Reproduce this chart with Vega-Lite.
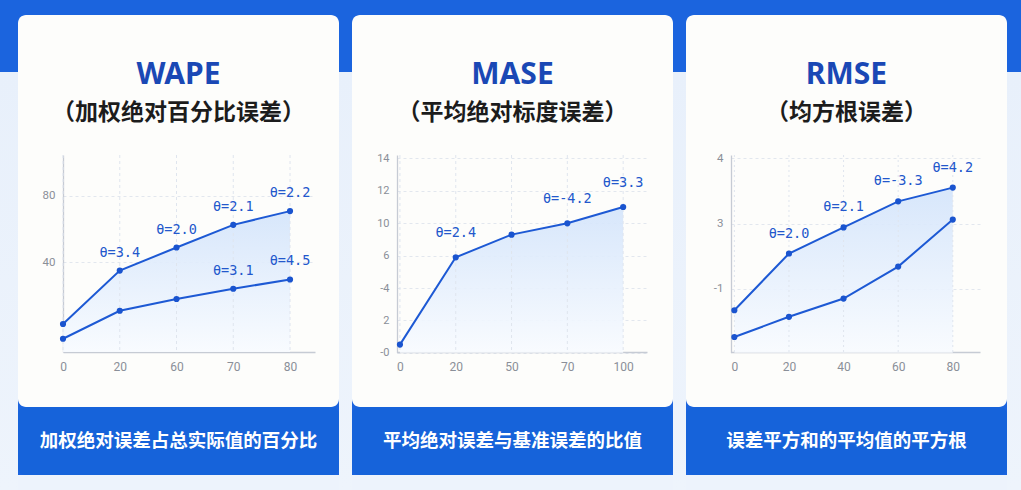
{
  "$schema": "https://vega.github.io/schema/vega-lite/v6.json",
  "background": "#1b64de",
  "padding": 0,
  "spacing": 0,
  "datasets": {"blank": [{"blank": " "}]},
  "config": {
    "view": {"stroke": null},
    "axis": {
      "domainColor": "#c6cbd4",
      "domainWidth": 1.3,
      "ticks": false,
      "gridColor": "#e2e7ee",
      "gridDash": [3, 3],
      "gridWidth": 1,
      "labelColor": "#8a8f98",
      "labelFont": "Roboto"
    },
    "axisX": {"labelFontSize": 12, "labelPadding": 9, "labelAngle": 0, "grid": false},
    "axisY": {"labelFontSize": 11.5, "labelPadding": 8, "grid": true},
    "title": {
      "anchor": "middle",
      "frame": "group",
      "font": "Noto Sans",
      "fontSize": 30,
      "fontWeight": "bold",
      "color": "#1a48b5",
      "subtitleFont": "Noto Sans CJK SC",
      "subtitleFontSize": 23,
      "subtitleFontWeight": "bold",
      "subtitleColor": "#1c1c1c",
      "subtitlePadding": 12,
      "offset": -110
    }
  },
  "hconcat": [
    {
      "width": 18, "height": 490,
      "view": {"fill": {"gradient": "linear", "x1": 0, "y1": 0, "x2": 0, "y2": 1, "stops": [{"offset": 0, "color": "#1b64de"}, {"offset": 0.147, "color": "#1b64de"}, {"offset": 0.147, "color": "#e8f0fb"}, {"offset": 1, "color": "#eef4fc"}]}, "stroke": null},
      "data": {"name": "blank"},
      "mark": {"type": "text", "opacity": 0},
      "encoding": {"text": {"field": "blank"}}
    },
    {
      "spacing": 0,
      "vconcat": [
        {
          "width": 321, "height": 15,
          "view": {"fill": "#1b64de", "stroke": null},
          "data": {"name": "blank"},
          "mark": {"type": "text", "opacity": 0},
          "encoding": {"text": {"field": "blank"}}
        },
        {
          "width": 321,
          "height": 392,
          "view": {"fill": "#fdfdfb", "stroke": null, "cornerRadius": 8},
          "title": {"text": "WAPE", "subtitle": "（加权绝对百分比误差）"},
          "data": {"values": [
            {"x": 0, "series": "upper", "value": 2.6},
            {"x": 20, "series": "upper", "value": 34.9, "label": "θ=3.4"},
            {"x": 60, "series": "upper", "value": 48.8, "label": "θ=2.0"},
            {"x": 70, "series": "upper", "value": 62.5, "label": "θ=2.1"},
            {"x": 80, "series": "upper", "value": 70.8, "label": "θ=2.2"},
            {"x": 0, "series": "lower", "value": -6.3},
            {"x": 20, "series": "lower", "value": 10.6},
            {"x": 60, "series": "lower", "value": 17.7},
            {"x": 70, "series": "lower", "value": 23.9, "label": "θ=3.1"},
            {"x": 80, "series": "lower", "value": 29.5, "label": "θ=4.5"}
          ]},
          "encoding": {
            "x": {"field": "x", "type": "ordinal", "title": null,
              "scale": {"type": "point", "range": [45, 297], "padding": 0.22, "align": 0},
              "axis": {"offset": -55}},
            "y": {"field": "value", "type": "quantitative", "title": null,
              "scale": {"domain": [-14.3, 104.7], "range": [337, 140], "nice": false, "zero": false},
              "axis": {"offset": -45, "values": [40, 80]}}
          },
          "layer": [
            {
              "transform": [{"filter": "datum.series === 'upper'"}],
              "mark": {"type": "area", "fill": {"gradient": "linear", "x1": 0, "y1": 0, "x2": 0, "y2": 1, "stops": [{"offset": 0, "color": "#d3e4fb"}, {"offset": 1, "color": "#f8fbff"}]}, "fillOpacity": 0.9},
              "encoding": {"y2": {"datum": -14.3}}
            },
            {
              "transform": [{"filter": "datum.series === 'upper'"}],
              "mark": {"type": "rule", "color": "#dfe5ee", "strokeDash": [3, 3], "strokeWidth": 1},
              "encoding": {"y": {"datum": 104.7}, "y2": {"datum": -14.3}}
            },
            {"mark": {"type": "line", "color": "#1d59d4", "strokeWidth": 2}, "encoding": {"detail": {"field": "series"}}},
            {"mark": {"type": "point", "filled": true, "size": 38, "color": "#1a54cf", "opacity": 1}},
            {
              "transform": [{"filter": "datum.label"}],
              "mark": {"type": "text", "dy": -18, "font": "DejaVu Sans Mono", "fontSize": 13.5, "color": "#2358cc"},
              "encoding": {"text": {"field": "label"}}
            }
          ]
        },
        {
          "width": 321,
          "height": 68,
          "view": {"fill": "#1663da", "stroke": null, "cornerRadius": 8},
          "data": {"values": [{"desc": "加权绝对误差占总实际值的百分比"}]},
          "mark": {"type": "text", "color": "white", "fontSize": 18.5, "fontWeight": "bold", "font": "Noto Sans CJK SC"},
          "encoding": {"text": {"field": "desc"}}
        },
        {
          "width": 321, "height": 15,
          "view": {"fill": "#edf3fc", "stroke": null},
          "data": {"name": "blank"},
          "mark": {"type": "text", "opacity": 0},
          "encoding": {"text": {"field": "blank"}}
        }
      ]
    },
    {
      "width": 13, "height": 490,
      "view": {"fill": {"gradient": "linear", "x1": 0, "y1": 0, "x2": 0, "y2": 1, "stops": [{"offset": 0, "color": "#1b64de"}, {"offset": 0.147, "color": "#1b64de"}, {"offset": 0.147, "color": "#e8f0fb"}, {"offset": 1, "color": "#eef4fc"}]}, "stroke": null},
      "data": {"name": "blank"},
      "mark": {"type": "text", "opacity": 0},
      "encoding": {"text": {"field": "blank"}}
    },
    {
      "spacing": 0,
      "vconcat": [
        {
          "width": 321, "height": 15,
          "view": {"fill": "#1b64de", "stroke": null},
          "data": {"name": "blank"},
          "mark": {"type": "text", "opacity": 0},
          "encoding": {"text": {"field": "blank"}}
        },
        {
          "width": 321,
          "height": 392,
          "view": {"fill": "#fdfdfb", "stroke": null, "cornerRadius": 8},
          "title": {"text": "MASE", "subtitle": "（平均绝对标度误差）"},
          "data": {"values": [
            {"x": 0, "value": 0.5},
            {"x": 20, "value": 5.9, "label": "θ=2.4"},
            {"x": 50, "value": 8.6},
            {"x": 70, "value": 10.0, "label": "θ=-4.2"},
            {"x": 100, "value": 11.0, "label": "θ=3.3"}
          ]},
          "encoding": {
            "x": {"field": "x", "type": "ordinal", "title": null,
              "scale": {"type": "point", "range": [45, 295], "padding": 0.24, "align": 0.11},
              "axis": {"offset": -55}},
            "y": {"field": "value", "type": "quantitative", "title": null,
              "scale": {"domain": [0, 6, 10, 14.2], "range": [337.7, 240.7, 208.3, 140], "nice": false, "zero": false},
              "axis": {"offset": -45, "values": [0, 2, 4, 6, 10, 12, 14], "labelFontSize": 11,
                "labelExpr": "datum.value == 0 ? '-0' : datum.value == 4 ? '-4' : datum.label"}}
          },
          "layer": [
            {
              "mark": {"type": "area", "fill": {"gradient": "linear", "x1": 0, "y1": 0, "x2": 0, "y2": 1, "stops": [{"offset": 0, "color": "#d3e4fb"}, {"offset": 1, "color": "#f8fbff"}]}, "fillOpacity": 0.9},
              "encoding": {"y2": {"datum": 0}}
            },
            {
              "mark": {"type": "rule", "color": "#dfe5ee", "strokeDash": [3, 3], "strokeWidth": 1},
              "encoding": {"y": {"datum": 14.2}, "y2": {"datum": 0}}
            },
            {"mark": {"type": "line", "color": "#1d59d4", "strokeWidth": 2}},
            {"mark": {"type": "point", "filled": true, "size": 38, "color": "#1a54cf", "opacity": 1}},
            {
              "transform": [{"filter": "datum.label"}],
              "mark": {"type": "text", "dy": -24, "font": "DejaVu Sans Mono", "fontSize": 13.5, "color": "#2358cc"},
              "encoding": {"text": {"field": "label"}}
            }
          ]
        },
        {
          "width": 321,
          "height": 68,
          "view": {"fill": "#1663da", "stroke": null, "cornerRadius": 8},
          "data": {"values": [{"desc": "平均绝对误差与基准误差的比值"}]},
          "mark": {"type": "text", "color": "white", "fontSize": 18.5, "fontWeight": "bold", "font": "Noto Sans CJK SC"},
          "encoding": {"text": {"field": "desc"}}
        },
        {
          "width": 321, "height": 15,
          "view": {"fill": "#edf3fc", "stroke": null},
          "data": {"name": "blank"},
          "mark": {"type": "text", "opacity": 0},
          "encoding": {"text": {"field": "blank"}}
        }
      ]
    },
    {
      "width": 13, "height": 490,
      "view": {"fill": {"gradient": "linear", "x1": 0, "y1": 0, "x2": 0, "y2": 1, "stops": [{"offset": 0, "color": "#1b64de"}, {"offset": 0.147, "color": "#1b64de"}, {"offset": 0.147, "color": "#e8f0fb"}, {"offset": 1, "color": "#eef4fc"}]}, "stroke": null},
      "data": {"name": "blank"},
      "mark": {"type": "text", "opacity": 0},
      "encoding": {"text": {"field": "blank"}}
    },
    {
      "spacing": 0,
      "vconcat": [
        {
          "width": 321, "height": 15,
          "view": {"fill": "#1b64de", "stroke": null},
          "data": {"name": "blank"},
          "mark": {"type": "text", "opacity": 0},
          "encoding": {"text": {"field": "blank"}}
        },
        {
          "width": 321,
          "height": 392,
          "view": {"fill": "#fdfdfb", "stroke": null, "cornerRadius": 8},
          "title": {"text": "RMSE", "subtitle": "（均方根误差）"},
          "data": {"values": [
            {"x": 0, "series": "upper", "value": 1.67},
            {"x": 20, "series": "upper", "value": 2.54, "label": "θ=2.0"},
            {"x": 40, "series": "upper", "value": 2.94, "label": "θ=2.1"},
            {"x": 60, "series": "upper", "value": 3.34, "label": "θ=-3.3"},
            {"x": 80, "series": "upper", "value": 3.55, "label": "θ=4.2"},
            {"x": 0, "series": "lower", "value": 1.26},
            {"x": 20, "series": "lower", "value": 1.57},
            {"x": 40, "series": "lower", "value": 1.85},
            {"x": 60, "series": "lower", "value": 2.34},
            {"x": 80, "series": "lower", "value": 3.06}
          ]},
          "encoding": {
            "x": {"field": "x", "type": "ordinal", "title": null,
              "scale": {"type": "point", "range": [45, 294], "padding": 0.28, "align": 0.11},
              "axis": {"offset": -55}},
            "y": {"field": "value", "type": "quantitative", "title": null,
              "scale": {"domain": [1.02, 4.05], "range": [337.7, 140], "nice": false, "zero": false},
              "axis": {"offset": -45, "values": [2, 3, 4], "labelExpr": "datum.value == 2 ? '-1' : datum.label"}}
          },
          "layer": [
            {
              "transform": [{"filter": "datum.series === 'upper'"}],
              "mark": {"type": "area", "fill": {"gradient": "linear", "x1": 0, "y1": 0, "x2": 0, "y2": 1, "stops": [{"offset": 0, "color": "#d3e4fb"}, {"offset": 1, "color": "#f8fbff"}]}, "fillOpacity": 0.9},
              "encoding": {"y2": {"datum": 1.02}}
            },
            {
              "transform": [{"filter": "datum.series === 'upper'"}],
              "mark": {"type": "rule", "color": "#dfe5ee", "strokeDash": [2, 3], "strokeWidth": 1},
              "encoding": {"y": {"datum": 4.05}, "y2": {"datum": 1.02}}
            },
            {"mark": {"type": "line", "color": "#1d59d4", "strokeWidth": 2}, "encoding": {"detail": {"field": "series"}}},
            {"mark": {"type": "point", "filled": true, "size": 38, "color": "#1a54cf", "opacity": 1}},
            {
              "transform": [{"filter": "datum.label"}],
              "mark": {"type": "text", "dy": -20, "font": "DejaVu Sans Mono", "fontSize": 13.5, "color": "#2358cc"},
              "encoding": {"text": {"field": "label"}}
            }
          ]
        },
        {
          "width": 321,
          "height": 68,
          "view": {"fill": "#1663da", "stroke": null, "cornerRadius": 8},
          "data": {"values": [{"desc": "误差平方和的平均值的平方根"}]},
          "mark": {"type": "text", "color": "white", "fontSize": 18.5, "fontWeight": "bold", "font": "Noto Sans CJK SC"},
          "encoding": {"text": {"field": "desc"}}
        },
        {
          "width": 321, "height": 15,
          "view": {"fill": "#edf3fc", "stroke": null},
          "data": {"name": "blank"},
          "mark": {"type": "text", "opacity": 0},
          "encoding": {"text": {"field": "blank"}}
        }
      ]
    },
    {
      "width": 14, "height": 490,
      "view": {"fill": {"gradient": "linear", "x1": 0, "y1": 0, "x2": 0, "y2": 1, "stops": [{"offset": 0, "color": "#1b64de"}, {"offset": 0.147, "color": "#1b64de"}, {"offset": 0.147, "color": "#e8f0fb"}, {"offset": 1, "color": "#eef4fc"}]}, "stroke": null},
      "data": {"name": "blank"},
      "mark": {"type": "text", "opacity": 0},
      "encoding": {"text": {"field": "blank"}}
    }
  ]
}
